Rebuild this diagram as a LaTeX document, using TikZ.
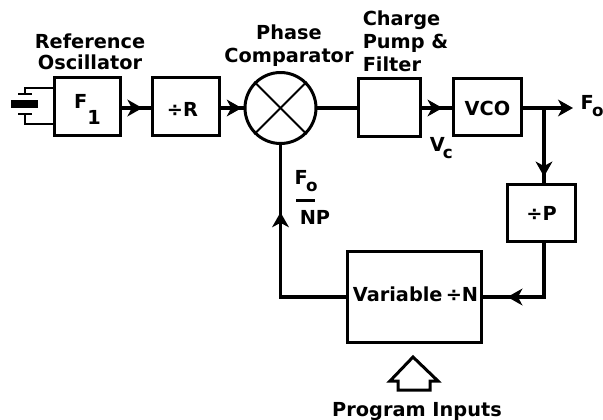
\documentclass[tikz,border=0pt]{standalone}
\usepackage{fontspec}
\setmainfont{DejaVu Sans}
\usetikzlibrary{arrows.meta}
\usetikzlibrary{decorations.markings}
\newcommand{\lowtext}[1]{\kern-1pt\raisebox{-0.7ex}{\fontsize{9.5}{9.5}\selectfont #1}}
\begin{document}
\begin{tikzpicture}
            [x=0.02cm,y=-0.02cm,line width=0.7mm,
            >={Stealth[inset=2.5pt,length=8.5pt,width=9.5pt]},
            block/.style={draw,line width=0.6mm,inner sep=0pt,font=\bfseries\fontsize{11}{13}\selectfont},
            tag/.style={font=\bfseries\fontsize{11}{13}\selectfont,inner sep=0pt,align=center},
            midarrow/.style={postaction={decorate,decoration={markings,mark=at position #1 with {\arrow{>}}}}}]
            \useasboundingbox (0, 0) rectangle (603, 420);
            % blocks
            \node [block,minimum width=1.34cm,minimum height=1.18cm] (osc) at (87.5, 106.5) {\rule{0pt}{11.4pt}F\raisebox{-1.5ex}{1}};
            \node [block,minimum width=1.36cm,minimum height=1.18cm] (divr) at (186, 106.5) {\rule{0pt}{11.4pt}\kern-4pt÷R};
            \node [block,circle,minimum size=1.42cm] (comp) at (280.5, 108) {};
            \node [block,minimum width=1.26cm,minimum height=1.16cm] (pump) at (389.5, 107.5) {};
            \node [block,minimum width=1.38cm,minimum height=1.14cm] (vco) at (487.5, 107) {\rule{0pt}{10pt}VCO};
            \node [block,minimum width=1.38cm,minimum height=1.16cm] (divp) at (541.5, 213) {÷P};
            \node [block,minimum width=2.70cm,minimum height=1.84cm] (divn) at (414.5, 297) {};
            \node [tag] (divntext) at (415.5, 294) {Variable\,÷N};
            % labels
            \node [tag] (osctext) at (90, 52) {Reference\\[-1pt]Oscillator};
            \node [tag] (comptext) at (289, 46) {Phase\\Comparator};
            \node [tag,align=left,anchor=north west] (pumptext) at (361, 9) {Charge\\Pump \&\\Filter};
            \node [tag,anchor=west] (vc) at (428, 148) {V\lowtext{c}};
            \node [tag,anchor=west] (fout) at (579, 106) {F\lowtext{o}};
            \node [tag,anchor=west] (fotop) at (293, 181) {F\lowtext{o}};
            \node [tag,anchor=west] (np) at (298, 217) {NP};
            \node [tag] (prog) at (417, 412) {Program Inputs};
            \coordinate (foutend) at (573, 108);
            \coordinate (branch) at (544, 108);
            % comparator cross
            \draw [line width=0.4mm] (comp.north west) -- (comp.south east);
            \draw [line width=0.4mm] (comp.north east) -- (comp.south west);
            % signal path
            \draw [midarrow=0.71] (osc.east |- 0,108) -- (divr.west |- 0,108);
            \draw [midarrow=0.92] (divr.east |- 0,108) -- (comp.west);
            \draw (comp.east) -- (pump.west |- 0,108);
            \draw [midarrow=0.69] (pump.east |- 0,108) -- (vco.west |- 0,108);
            \draw [->] (vco.east |- 0,108) -- (foutend);
            \draw [midarrow=0.92] (branch) -- (branch |- divp.north);
            \draw [midarrow=0.79] (branch |- divp.south) |- (divn.east);
            \draw [midarrow=0.69] (divn.west) -| (comp.south);
            \draw [line width=0.6mm] (296, 200) -- (315, 200);
            % crystal
            \coordinate (xtop) at (25, 88);
            \coordinate (xbot) at (25, 124);
            \draw [line width=0.4mm] (osc.west |- xtop) -- (xtop) -- (25, 94);
            \draw [line width=0.4mm] (osc.west |- xbot) -- (xbot) -- (25, 114);
            \draw [line width=0.5mm] (18, 94) -- (32, 94);
            \draw [line width=0.5mm] (18, 114) -- (32, 114);
            \fill (11, 100) rectangle (38, 108);
            % program inputs arrow
            \draw [line width=0.6mm,line join=miter] (413, 357) -- (438, 381) -- (430, 381) -- (430, 390) -- (398, 390) -- (398, 381) -- (390, 381) -- cycle;
        \end{tikzpicture}
\end{document}
